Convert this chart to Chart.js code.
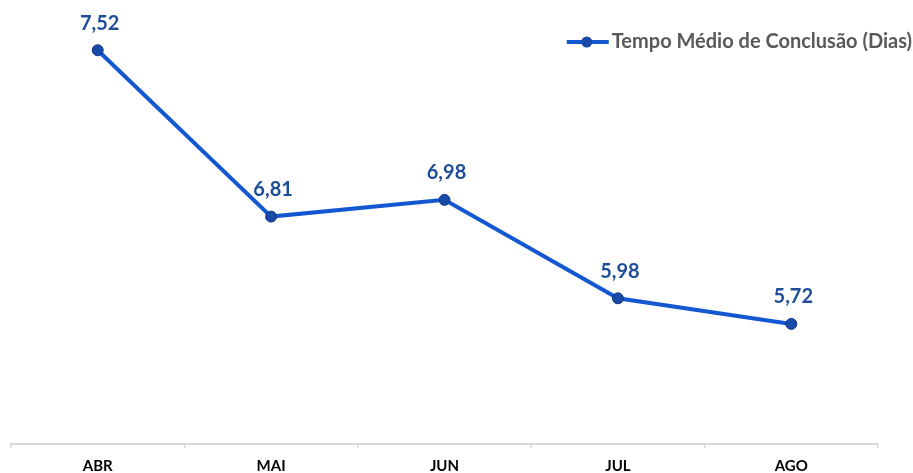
<!DOCTYPE html>
<html>
<head>
<meta charset="utf-8">
<script src="https://cdn.jsdelivr.net/npm/chart.js@4"></script>
<style>
html,body{margin:0;padding:0;background:#fff;overflow:hidden;}
#wrap{position:relative;width:913px;height:473px;overflow:hidden;}
</style>
</head>
<body>
<div id="wrap"><canvas id="c" width="913" height="482"></canvas></div>
<script>
// Categories (months)
const categories = ['ABR', 'MAI', 'JUN', 'JUL', 'AGO'];
// Plotted positions (ABR point sits at ~8.5 on the drawn scale)
const plottedValues = [8.5, 6.81, 6.98, 5.98, 5.72];
// Data labels exactly as printed on the chart
const valueLabels = ['7,52', '6,81', '6,98', '5,98', '5,72'];
const seriesName = 'Tempo Médio de Conclusão (Dias)';

const LINE = '#1358d0';
const POINT = '#1a4aa8';
const LABEL = '#1f4e99';

const dataLabelPlugin = {
  id: 'dataLabels',
  afterDatasetsDraw(chart) {
    const ctx = chart.ctx;
    const meta = chart.getDatasetMeta(0);
    ctx.save();
    ctx.font = 'bold 20px Lato, "Open Sans", sans-serif';
    ctx.fillStyle = LABEL;
    ctx.textAlign = 'center';
    ctx.textBaseline = 'middle';
    meta.data.forEach((pt, i) => {
      ctx.fillText(valueLabels[i], pt.x + 2, pt.y - 27);
    });
    ctx.restore();
  }
};

const legendPlugin = {
  id: 'customLegend',
  afterDraw(chart) {
    const ctx = chart.ctx;
    ctx.save();
    ctx.font = 'bold 20px Lato, "Open Sans", sans-serif';
    const tw = ctx.measureText(seriesName).width;
    const xEnd = chart.width - 1;
    const tx = xEnd - tw;
    const y = 42;
    ctx.strokeStyle = LINE;
    ctx.lineWidth = 4;
    ctx.beginPath();
    ctx.moveTo(tx - 45, y);
    ctx.lineTo(tx - 3, y);
    ctx.stroke();
    ctx.fillStyle = POINT;
    ctx.beginPath();
    ctx.arc(tx - 25, y, 5.5, 0, Math.PI * 2);
    ctx.fill();
    ctx.fillStyle = '#595959';
    ctx.textAlign = 'left';
    ctx.textBaseline = 'middle';
    ctx.fillText(seriesName, tx, y);
    ctx.restore();
  }
};

new Chart(document.getElementById('c'), {
  type: 'line',
  data: {
    labels: categories,
    datasets: [{
      label: seriesName,
      data: plottedValues,
      borderColor: LINE,
      borderWidth: 4,
      backgroundColor: POINT,
      pointBackgroundColor: POINT,
      pointBorderColor: '#0e3a8a',
      pointBorderWidth: 1,
      pointRadius: 5.5,
      tension: 0,
      clip: false
    }]
  },
  options: {
    responsive: false,
    animation: false,
    devicePixelRatio: 1,
    layout: { autoPadding: false, padding: { left: 11, right: 35, top: 1, bottom: -3 } },
    plugins: { legend: { display: false }, tooltip: { enabled: false } },
    scales: {
      x: {
        offset: true,
        grid: {
          offset: true,
          drawOnChartArea: false,
          drawTicks: true,
          tickLength: 4,
          color: '#d9d9d9',
          lineWidth: 1.5
        },
        border: { display: true, color: '#d9d9d9', width: 2 },
        ticks: {
          padding: 11,
          color: '#000000',
          font: { family: 'Lato, "Open Sans", sans-serif', size: 15, weight: 'bold', lineHeight: 1 }
        }
      },
      y: {
        display: false,
        min: 4.5,
        max: 9
      }
    }
  },
  plugins: [dataLabelPlugin, legendPlugin]
});
</script>
</body>
</html>
